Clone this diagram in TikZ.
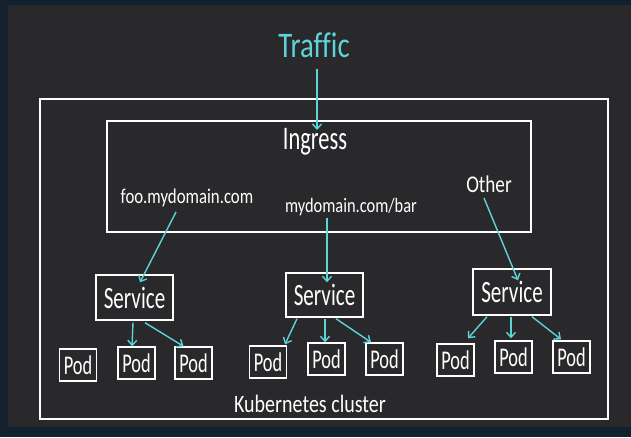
\documentclass[tikz,border=0pt]{standalone}
\usepackage{fontspec}
\newfontfamily\hand[FakeStretch=0.8,Ligatures=CommonOff]{Carlito}
\newfontfamily\handn[FakeStretch=0.68,Ligatures=CommonOff]{Carlito}
\usetikzlibrary{arrows.meta}
\definecolor{navy}{HTML}{13212E}
\definecolor{panel}{HTML}{29282A}
\definecolor{cyanink}{HTML}{5ED3D8}
\begin{document}
\begin{tikzpicture}[x=1pt,y=-1pt,
  box/.style={draw=white, line width=1.4pt, inner sep=0pt},
  svc/.style={box, minimum width=77pt, minimum height=45pt, text=white, font=\handn\fontsize{31}{31}\selectfont},
  pod/.style={box, minimum width=37pt, minimum height=32pt, text=white, font=\handn\fontsize{27}{27}\selectfont},
  lbl/.style={text=white, inner sep=0pt, anchor=base},
  arr/.style={draw=cyanink, line width=1.4pt, -{Straight Barb[length=5pt,width=9pt]}}]
\fill[navy] (0,0) rectangle (631,437);
\fill[panel] (8,5) rectangle (631,427);
\useasboundingbox (0,0) rectangle (631,437);
% cluster and ingress
\node[box, line width=1.6pt, minimum width=568pt, minimum height=320pt] (cluster) at (324,259) {};
\node[box, minimum width=424pt, minimum height=111pt] (ingress) at (319,176.5) {};
\node[lbl, text=cyanink, font=\hand\fontsize{36}{36}\selectfont] (traffic) at (314,57) {Traffic};
\node[lbl, font=\handn\fontsize{33}{33}\selectfont] (ingresslbl) at (315,149) {Ingress};
\node[lbl, font=\hand\fontsize{21}{21}\selectfont] (foo) at (187,203) {foo.mydomain.com};
\node[lbl, font=\hand\fontsize{20.5}{20.5}\selectfont] (bar) at (351,212) {mydomain.com/bar};
\node[lbl, font=\hand\fontsize{24}{24}\selectfont] (other) at (489,192) {Other};
\node[lbl, font=\hand\fontsize{25}{25}\selectfont] (k8s) at (310,412) {Kubernetes cluster};
\coordinate (ingin) at (317,130);
% services
\node[svc] (s1) at (134.5,297.5) {Service};
\node[svc, minimum height=44pt] (s2) at (324.5,295) {Service};
\node[svc, minimum width=78pt, minimum height=46pt] (s3) at (512,292) {Service};
% pods
\node[pod] (p1) at (78,365) {Pod};
\node[pod] (p2) at (136.5,363) {Pod};
\node[pod] (p3) at (193.5,363) {Pod};
\node[pod] (p4) at (268,362) {Pod};
\node[pod] (p5) at (326.5,359) {Pod};
\node[pod] (p6) at (384.5,359) {Pod};
\node[pod] (p7) at (455.5,360) {Pod};
\node[pod] (p8) at (513.5,357) {Pod};
\node[pod] (p9) at (571.5,357) {Pod};
% arrows
\draw[arr] ([shift={(3,12)}]traffic.base) -- (ingin);
\draw[arr] ([shift={(-11,9)}]foo.base) -- ([shift={(5.5,8)}]s1.north);
\draw[arr] ([shift={(-24,6)}]bar.base) -- ([shift={(2.5,10)}]s2.north);
\draw[arr] ([shift={(-5,6)}]other.base) -- ([shift={(6,12)}]s3.north);
\draw[arr] ([shift={(-1.5,2)}]s1.south) -- ([shift={(-4.5,0)}]p2.north);
\draw[arr] ([shift={(10.5,2)}]s1.south) -- ([shift={(-10,0)}]p3.north);
\draw[arr] ([shift={(-27.5,1)}]s2.south) -- ([shift={(17,-1)}]p4.north);
\draw[arr] ([shift={(0.5,1)}]s2.south) -- ([shift={(-1.5,0)}]p5.north);
\draw[arr] ([shift={(11.5,1)}]s2.south) -- ([shift={(-13.5,0)}]p6.north);
\draw[arr] ([shift={(-25,1)}]s3.south) -- ([shift={(12.5,-5)}]p7.north);
\draw[arr] ([shift={(-1,1)}]s3.south) -- ([shift={(-2.5,-2)}]p8.north);
\draw[arr] ([shift={(20,1)}]s3.south) -- ([shift={(-10.5,-1)}]p9.north);
\end{tikzpicture}
\end{document}
